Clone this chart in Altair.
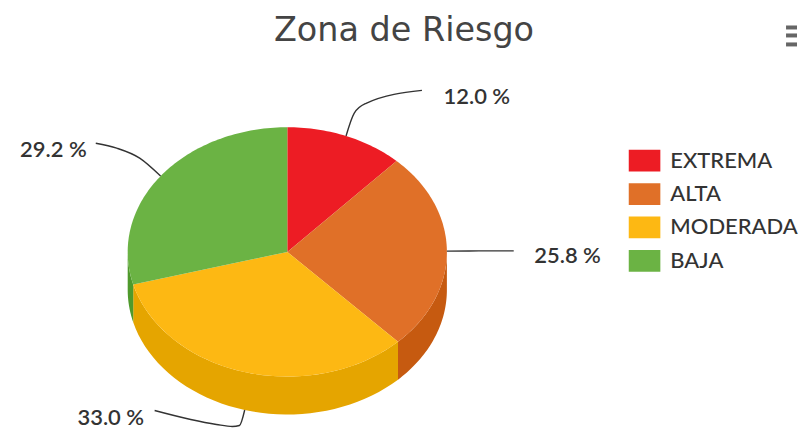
import math
import altair as alt
import pandas as pd

categories = ["EXTREMA", "ALTA", "MODERADA", "BAJA"]
values = [12.0, 25.8, 33.0, 29.2]
top_colors = ["#ED1C24", "#E07028", "#FDB813", "#6BB344"]
side_colors = ["#B5141A", "#C65A10", "#E5A500", "#4F9A2C"]
labels = ["12.0 %", "25.8 %", "33.0 %", "29.2 %"]

CX, CY, RX, RY, DEPTH = 288, 252, 160, 125, 38


def rim(deg, drop=0):
    a = math.radians(deg)
    return CX + RX * math.sin(a), CY - RY * math.cos(a) + drop


top_rows, side_rows = [], []
start = 0.0
spans = []
for cat, val, side in zip(categories, values, side_colors):
    end = start + val * 3.6
    spans.append((start, end))
    n = max(8, int(val * 3))
    pts = [(CX, CY)] + [rim(start + (end - start) * k / n) for k in range(n + 1)] + [(CX, CY)]
    for i, (x, y) in enumerate(pts):
        top_rows.append(dict(cat=cat, i=i, x=x, y=y))
    s, e = max(start, 90), min(end, 270)
    if s < e:
        m = 40
        arc = [s + (e - s) * k / m for k in range(m + 1)]
        outline = [rim(d) for d in arc] + [rim(d, DEPTH) for d in reversed(arc)]
        outline.append(outline[0])
        for i, (x, y) in enumerate(outline):
            side_rows.append(dict(cat=cat, i=i, x=x, y=y, col=side))
    start = end

X = alt.X("x:Q", scale=alt.Scale(domain=[8, 799], nice=False, zero=False), axis=None)
Y = alt.Y("y:Q", scale=alt.Scale(domain=[427, 8], nice=False, zero=False), axis=None)

side = alt.Chart(pd.DataFrame(side_rows)).mark_line(filled=True, strokeWidth=0.5).encode(
    x=X, y=Y, order="i:Q", detail="cat:N",
    color=alt.Color("col:N", scale=None),
)
top = alt.Chart(pd.DataFrame(top_rows)).mark_line(filled=True, strokeWidth=0.5).encode(
    x=X, y=Y, order="i:Q",
    color=alt.Color(
        "cat:N",
        scale=alt.Scale(domain=categories, range=top_colors),
        legend=alt.Legend(
            title=None, orient="none", legendX=621, legendY=136,
            symbolType="M-0.92,-0.66H1V0.66H-0.92Z", symbolSize=1089, symbolStrokeWidth=0,
            symbolOpacity=1, labelFont="Lato", labelFontSize=22, labelColor="#333333",
            labelFontWeight=500, rowPadding=5.5, labelOffset=10, labelLimit=200, padding=0,
        ),
    ),
)

leader_paths = [
    [rim(sum(spans[0]) / 2), (355, 113), (367, 103), (423, 90)],
    [rim(sum(spans[1]) / 2), (480, 251), (515, 251)],
    [rim(sum(spans[2]) / 2, DEPTH), (240, 426), (233, 427), (217, 425), (155, 411)],
    [rim(sum(spans[3]) / 2), (140, 158), (117, 148), (96, 143)],
]
leader_rows = [
    dict(cat=c, i=i, x=x, y=y)
    for c, path in zip(categories, leader_paths)
    for i, (x, y) in enumerate(path)
]
leaders = alt.Chart(pd.DataFrame(leader_rows)).mark_line(
    color="#333333", strokeWidth=1.4, interpolate="monotone"
).encode(x=X, y=Y, order="i:Q", detail="cat:N")

label_df = pd.DataFrame(dict(t=labels, x=[478, 569, 111, 53.5], y=[97, 256, 419, 150]))
label_text = alt.Chart(label_df).mark_text(
    font="Lato", fontSize=22, fontWeight=600, color="#333333"
).encode(x=X, y=Y, text="t:N")

title_text = alt.Chart(pd.DataFrame(dict(t=["Zona de Riesgo"], x=[405], y=[31]))).mark_text(
    font="DejaVu Sans", fontSize=33.5, color="#444444"
).encode(x=X, y=Y, text="t:N")

menu = alt.Chart(pd.DataFrame(dict(x=[788] * 3, x2=[799] * 3, y=[27, 35, 44]))).mark_rule(
    color="#666666", strokeWidth=4
).encode(x=X, x2="x2:Q", y=Y)

chart = alt.layer(side, top, leaders, label_text, title_text, menu).resolve_scale(
    color="independent"
).properties(width=791, height=419, padding=0, background="white").configure_view(stroke=None)

chart.save("out.html", embed_options={"renderer": "svg", "actions": False})
